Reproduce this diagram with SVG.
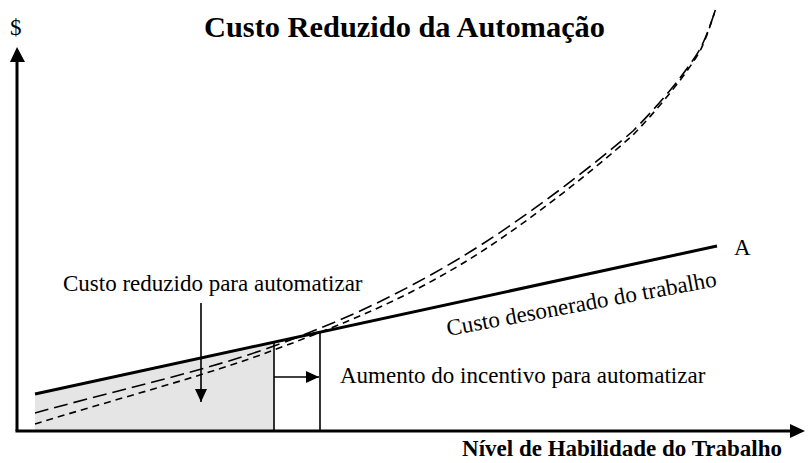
<svg xmlns="http://www.w3.org/2000/svg" width="808" height="463" viewBox="0 0 808 463">
<style>
text{font-family:"Liberation Serif","Times New Roman",serif;fill:#000}
.t{font-size:23px}
.b{font-weight:bold}
.ax{stroke:#000;stroke-width:3;fill:none}
.thin{stroke:#000;stroke-width:1.6;fill:none}
.ld{stroke:#000;stroke-width:1.6;fill:none;stroke-dasharray:14 6}
.sd{stroke:#000;stroke-width:1.6;fill:none;stroke-dasharray:7 5}
</style>
<defs>
<marker id="ah" viewBox="0 0 13 12" refX="13" refY="6" markerWidth="13" markerHeight="12" markerUnits="userSpaceOnUse" orient="auto"><path d="M0,0L13,6L0,12z" fill="#000"/></marker>
</defs>
<rect width="808" height="463" fill="#fff"/>
<g id="shade"><polygon points="35,431 35,394 274,342 274,431" fill="#e5e5e5"/></g>
<g id="axes">
<line class="ax" x1="17" y1="431" x2="17" y2="60"/>
<polygon points="17,47 10,62 25,62" fill="#000"/>
<line class="ax" x1="15.5" y1="431" x2="792" y2="431"/>
<polygon points="805,431 790,424 790,438" fill="#000"/>
</g>
<g id="curves">
<path class="ld" d="M35,413 C114.7,390.7 203.2,371.8 274,346 C344.8,320.2 400.2,293.8 460,258 C519.8,222.2 593,165.8 633,131 C660,104 688,70 700,49 C707,36 712,20 716,8"/>
<path class="sd" d="M35,424 C114.7,399.3 203.2,376.5 274,350 C344.8,323.5 400.2,300.8 460,265 C519.8,229.2 593,170.7 633,135 C660,107 688,72 700,51 C707,37 712,20 716,8"/>
</g>
<g id="lineA">
<line class="ax" x1="35" y1="394" x2="717" y2="246"/>
<text class="t" x="734" y="255">A</text>
</g>
<g id="connectors">
<line class="thin" x1="274" y1="342" x2="274" y2="431"/>
<line class="thin" x1="320" y1="332" x2="320" y2="431"/>
<line class="thin" x1="274" y1="377" x2="319" y2="377" marker-end="url(#ah)"/>
<line class="thin" x1="201" y1="303" x2="201" y2="402" marker-end="url(#ah)"/>
</g>
<g id="labels">
<text class="t" x="10" y="35">$</text>
<text class="b" x="404.5" y="37" text-anchor="middle" style="font-size:30.4px">Custo Reduzido da Automação</text>
<text class="t" x="63" y="291">Custo reduzido para automatizar</text>
<text class="t" x="340" y="383">Aumento do incentivo para automatizar</text>
<text class="t" transform="translate(448,336) rotate(-10.5)">Custo desonerado do trabalho</text>
<text class="b t" x="782" y="456" text-anchor="end">Nível de Habilidade do Trabalho</text>
</g>
</svg>
